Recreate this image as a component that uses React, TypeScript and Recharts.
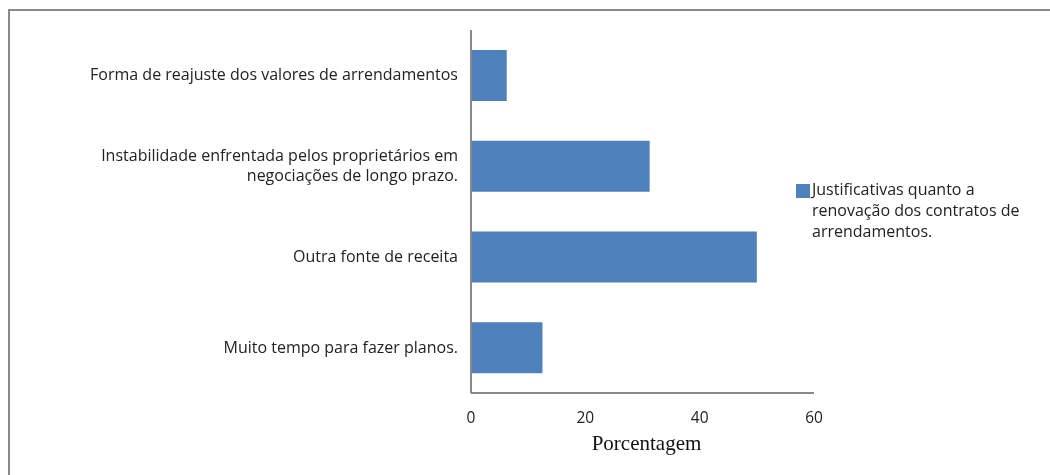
import React from "react";
import { Bar, BarChart, XAxis, YAxis } from "recharts";

// categories listed top to bottom; "\n" marks a line break in the axis label
const categories = [
  "Forma de reajuste dos valores de arrendamentos",
  "Instabilidade enfrentada pelos proprietários em\nnegociações de longo prazo.",
  "Outra fonte de receita",
  "Muito tempo para fazer planos.",
];
const percentages = [6.25, 31.25, 50, 12.5];
const xTicks = [0, 20, 40, 60];
const seriesName = "Justificativas quanto a\nrenovação dos contratos de\narrendamentos.";
const axisTitle = "Porcentagem";

const data = categories.map((name, i) => ({ name, value: percentages[i] }));

const SANS = "'Open Sans', Lato, sans-serif";
const AXIS_GRAY = "#898989";
const BAR_BLUE = "#4F81BD";

const CategoryTick = (props: any) => {
  const { x, y, payload } = props;
  const lines: string[] = String(payload.value).split("\n");
  const lh = 20;
  const top = y - ((lines.length - 1) * lh) / 2 + 5;
  return (
    <text x={x} y={top} textAnchor="end" fill="#222" fontSize={16} fontFamily={SANS}>
      {lines.map((l, i) => (
        <tspan key={i} x={x} dy={i === 0 ? 0 : lh}>
          {l}
        </tspan>
      ))}
    </text>
  );
};

const ValueTick = (props: any) => {
  const { x, y, payload } = props;
  return (
    <text x={x} y={y + 5} textAnchor="middle" fill="#222" fontSize={15.5} fontFamily={SANS}>
      {payload.value}
    </text>
  );
};

const AxisTitle = (props: any) => {
  const { viewBox } = props;
  return (
    <text
      x={viewBox.x + viewBox.width / 2 + 4}
      y={viewBox.y + 57}
      textAnchor="middle"
      fill="#111"
      fontSize={21}
      fontFamily="'Liberation Serif', 'Times New Roman', serif"
    >
      {axisTitle}
    </text>
  );
};

// series key, placed to the right of the plot
const SeriesLegend = () => (
  <div
    style={{
      position: "fixed",
      left: 796,
      top: 179,
      display: "flex",
      alignItems: "flex-start",
      fontFamily: SANS,
      fontSize: 16,
      color: "#222",
    }}
  >
    <span
      style={{ width: 14, height: 14, background: BAR_BLUE, marginTop: 5, marginRight: 2, flex: "none" }}
    />
    <div style={{ lineHeight: "21px", whiteSpace: "pre" }}>{seriesName}</div>
  </div>
);

export default function App() {
  return (
    <>
      <div
        style={{
          position: "fixed",
          left: 8,
          top: 9,
          width: 1042,
          height: 466,
          borderTop: `2px solid ${AXIS_GRAY}`,
          borderLeft: `2px solid ${AXIS_GRAY}`,
          boxSizing: "border-box",
        }}
      />
      <div style={{ position: "fixed", left: 0, top: 0 }}>
        <BarChart
          width={1050}
          height={475}
          data={data}
          layout="vertical"
          barSize={51}
          margin={{ top: 30, right: 236, bottom: 22, left: 0 }}
        >
          <XAxis
            type="number"
            domain={[0, 60]}
            ticks={xTicks}
            height={60}
            tickSize={0}
            tickMargin={25}
            axisLine={{ stroke: AXIS_GRAY, strokeWidth: 2 }}
            tick={<ValueTick />}
            label={<AxisTitle />}
          />
          <YAxis
            type="category"
            dataKey="name"
            width={471}
            tickSize={0}
            tickMargin={13}
            axisLine={{ stroke: AXIS_GRAY, strokeWidth: 2 }}
            tick={<CategoryTick />}
            interval={0}
          />
          <Bar dataKey="value" name={seriesName} fill={BAR_BLUE} isAnimationActive={false} />
        </BarChart>
      </div>
      <SeriesLegend />
    </>
  );
}
